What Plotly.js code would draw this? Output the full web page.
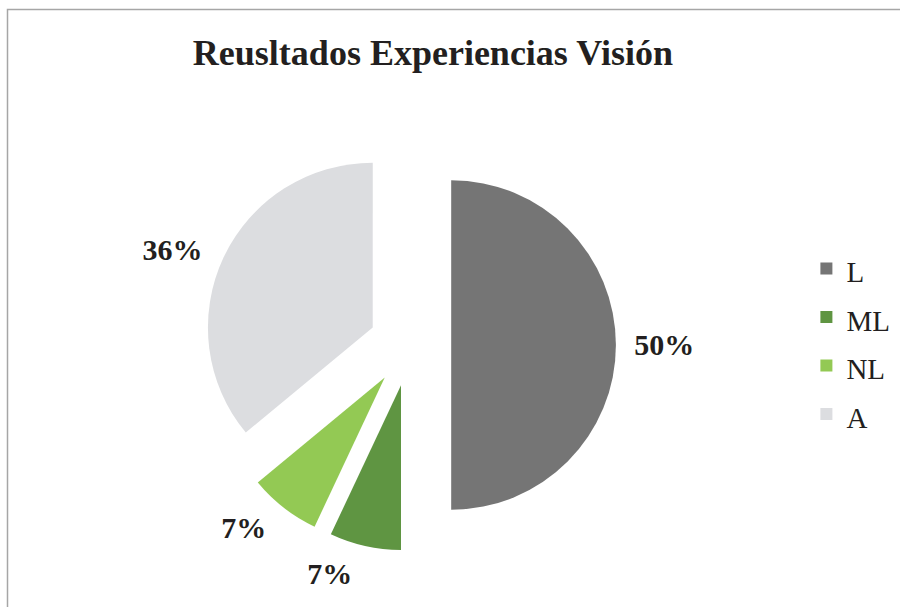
<!DOCTYPE html>
<html>
<head>
<meta charset="utf-8">
<script src="https://cdn.plot.ly/plotly-3.0.1.min.js"></script>
<style>html,body{margin:0;padding:0;background:#fff;}#chart{width:900px;height:607px;}</style>
</head>
<body>
<div id="chart"></div>
<script>
const titleText = "Reusltados Experiencias Visión";
const categories = ["L", "ML", "NL", "A"];
const values = [50, 7, 7, 36];
const colors = ["#757575", "#5f9542", "#93c954", "#dcdde0"];

const legendLabels = categories.map(c => '<span style="font-size:29px">' + c + '</span>');
const serif = "Liberation Serif";

const common = {
  type: "pie",
  labels: legendLabels,
  values: values,
  sort: false,
  direction: "clockwise",
  rotation: 0,
  automargin: false,
  hoverinfo: "none"
};

const data = [
  Object.assign({}, common, {
    pull: 0.25,
    marker: {colors: colors, line: {width: 0}},
    textinfo: "none",
    domain: {x: [0.2267, 0.6844], y: [0.0922, 0.771]},
    showlegend: true
  }),
  Object.assign({}, common, {
    pull: 0.232,
    marker: {colors: ["rgba(0,0,0,0)","rgba(0,0,0,0)","rgba(0,0,0,0)","rgba(0,0,0,0)"], line: {width: 0}},
    textinfo: "percent",
    textposition: "outside",
    outsidetextfont: {family: serif, size: 30, color: "#231f20", weight: "bold"},
    domain: {x: [0.2111, 0.6956], y: [0.0725, 0.7908]},
    showlegend: false
  })
];

const layout = {
  width: 900, height: 607,
  margin: {l: 0, r: 0, t: 0, b: 0},
  paper_bgcolor: "#ffffff",
  font: {family: serif, color: "#231f20"},
  title: {
    text: "<b>" + titleText + "</b>",
    font: {family: serif, size: 36, color: "#231f20"},
    x: 0.481, xanchor: "center", y: 0.914, yanchor: "middle"
  },
  showlegend: true,
  legend: {
    x: 0.896, xanchor: "left", y: 0.438, yanchor: "middle",
    font: {family: serif, size: 35, color: "#231f20"},
    bgcolor: "rgba(0,0,0,0)"
  },
  shapes: [{
    type: "rect", xref: "paper", yref: "paper",
    x0: 7.5/900, x1: 1.05, y0: -0.05, y1: 1 - 9.5/607,
    line: {color: "#a6a6a6", width: 1.5}, fillcolor: "rgba(0,0,0,0)"
  }]
};

Plotly.newPlot("chart", data, layout, {displayModeBar: false, staticPlot: true});
</script>
</body>
</html>
